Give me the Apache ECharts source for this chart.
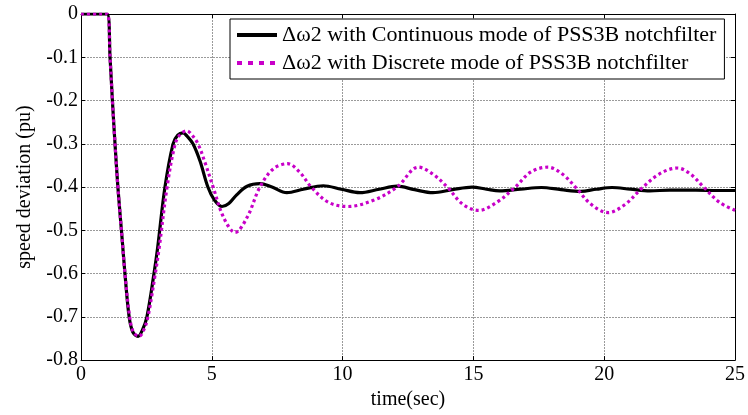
<!DOCTYPE html>
<html>
<head>
<meta charset="utf-8">
<script src="https://cdn.jsdelivr.net/npm/echarts@6/dist/echarts.min.js"></script>
<style>html,body{margin:0;padding:0;background:#fff}#c{width:748px;height:415px}</style>
</head>
<body>
<div id="c"></div>
<script>
// Continuous mode (black)
const contT = [0, 1.0, 1.11, 1.2, 1.3, 1.41, 1.57, 1.68, 1.84, 1.98, 2.18, 2.35, 2.52, 2.79, 2.93, 3.21, 3.52, 3.7, 3.9, 4.05, 4.28, 4.55, 4.85, 5.1, 5.39, 5.65, 5.95, 6.35, 6.84, 7.3, 7.87, 8.5, 9.26, 9.95, 10.66, 11.4, 12.08, 12.75, 13.45, 14.2, 14.95, 15.5, 16.0, 16.8, 17.6, 18.35, 19.1, 19.7, 20.3, 21.0, 21.75, 22.5, 23.5, 24.3, 25];
const contV = [0, 0, -0.1, -0.2, -0.3, -0.4, -0.518, -0.6, -0.7, -0.735, -0.745, -0.73, -0.7, -0.6, -0.54, -0.4, -0.3, -0.28, -0.275, -0.282, -0.3, -0.34, -0.4, -0.43, -0.445, -0.438, -0.418, -0.398, -0.392, -0.4, -0.413, -0.405, -0.397, -0.405, -0.413, -0.405, -0.398, -0.406, -0.413, -0.406, -0.4, -0.405, -0.409, -0.405, -0.401, -0.406, -0.41, -0.405, -0.401, -0.405, -0.409, -0.407, -0.407, -0.408, -0.408];
// Discrete mode (magenta)
const discT = [0, 1.0, 1.11, 1.2, 1.3, 1.41, 1.57, 1.68, 1.86, 2.0, 2.22, 2.4, 2.56, 2.84, 2.99, 3.29, 3.6, 3.8, 4.05, 4.22, 4.47, 4.75, 5.05, 5.45, 5.89, 6.35, 6.84, 7.35, 7.9, 8.35, 8.8, 9.45, 10.2, 11.2, 12.08, 12.9, 13.45, 14.0, 14.6, 15.2, 15.9, 16.6, 17.2, 17.85, 18.4, 18.9, 19.5, 20.15, 20.8, 21.4, 22.1, 22.8, 23.3, 23.8, 24.4, 25];
const discV = [0, 0, -0.1, -0.2, -0.3, -0.4, -0.518, -0.6, -0.7, -0.735, -0.745, -0.73, -0.7, -0.6, -0.54, -0.4, -0.3, -0.278, -0.27, -0.278, -0.3, -0.345, -0.4, -0.47, -0.505, -0.47, -0.4, -0.358, -0.346, -0.365, -0.4, -0.435, -0.445, -0.43, -0.4, -0.354, -0.37, -0.4, -0.44, -0.454, -0.435, -0.4, -0.365, -0.354, -0.37, -0.4, -0.44, -0.459, -0.44, -0.405, -0.37, -0.356, -0.37, -0.4, -0.435, -0.454];
const xTicks = [0, 5, 10, 15, 20, 25];
const yTicks = [0, -0.1, -0.2, -0.3, -0.4, -0.5, -0.6, -0.7, -0.8];
const seriesNames = ['\u0394\u03c92 with Continuous mode of PSS3B notchfilter', '\u0394\u03c92 with Discrete mode of PSS3B notchfilter'];

const font = 'Liberation Serif';
const chart = echarts.init(document.getElementById('c'));
const pair = (t, v) => t.map((x, i) => [x, v[i]]);
const axisCommon = {
  axisLine: { show: true, onZero: false, lineStyle: { color: '#000', width: 1 } },
  axisTick: { show: true, inside: true, length: 4, lineStyle: { color: '#000' } },
};
const solidIcon = 'path://M0,0h40v4h-40z';
const dotIcon = 'path://M0,0h5v4h-5z M11,0h5v4h-5z M22,0h5v4h-5z M33,0h5v4h-5z M40,0h0v4h0z';
chart.setOption({
  animation: false,
  backgroundColor: '#fff',
  grid: { left: 81, right: 13, top: 14, bottom: 52 },
  legend: {
    orient: 'vertical', left: 230, top: 19,
    backgroundColor: '#fff', borderColor: '#000', borderWidth: 1,
    padding: [5, 8, 5, 7], itemGap: 6, itemWidth: 40, itemHeight: 4,
    textStyle: { fontFamily: font, fontSize: 22, color: '#000', padding: [0, 0, 0, 0] },
    data: [
      { name: seriesNames[0], icon: solidIcon, itemStyle: { color: '#000' } },
      { name: seriesNames[1], icon: dotIcon, itemStyle: { color: '#c800c8' } }
    ]
  },
  xAxis: [
    Object.assign({
      type: 'value', min: xTicks[0], max: xTicks[xTicks.length - 1], interval: 5,
      name: 'time(sec)', nameLocation: 'middle', nameGap: 26,
      nameTextStyle: { fontFamily: font, fontSize: 20, color: '#000' },
      axisLabel: { fontFamily: font, fontSize: 20, color: '#000', margin: 5 },
      splitLine: { show: true, lineStyle: { color: '#9a9a9a', width: 1, type: [2, 1] } }
    }, axisCommon),
    Object.assign({
      type: 'value', position: 'top', min: 0, max: 25, interval: 5,
      axisLabel: { show: false }, splitLine: { show: false }
    }, axisCommon)
  ],
  yAxis: [
    Object.assign({
      type: 'value', min: yTicks[yTicks.length - 1], max: yTicks[0], interval: 0.1,
      name: 'speed deviation (pu)', nameLocation: 'middle', nameGap: 46,
      nameTextStyle: { fontFamily: font, fontSize: 20, color: '#000' },
      axisLabel: { fontFamily: font, fontSize: 20, color: '#000', margin: 3,
        formatter: v => (Math.abs(v) < 1e-9 ? '0' : String(Math.round(v * 10) / 10)) },
      splitLine: { show: true, lineStyle: { color: '#9a9a9a', width: 1, type: [2, 1] } }
    }, axisCommon),
    Object.assign({
      type: 'value', position: 'right', min: -0.8, max: 0, interval: 0.1,
      axisLabel: { show: false }, splitLine: { show: false }
    }, axisCommon)
  ],
  series: [
    {
      name: seriesNames[0], type: 'line', data: pair(contT, contV),
      smooth: 0.35, symbol: 'none', z: 3,
      lineStyle: { color: '#000', width: 3.2 }, itemStyle: { color: '#000' }
    },
    {
      name: seriesNames[1], type: 'line', data: pair(discT, discV),
      smooth: 0.35, symbol: 'none', z: 4,
      lineStyle: { color: '#c800c8', width: 3.2, type: [3, 3] }, itemStyle: { color: '#c800c8' }
    }
  ]
});
</script>
</body>
</html>
